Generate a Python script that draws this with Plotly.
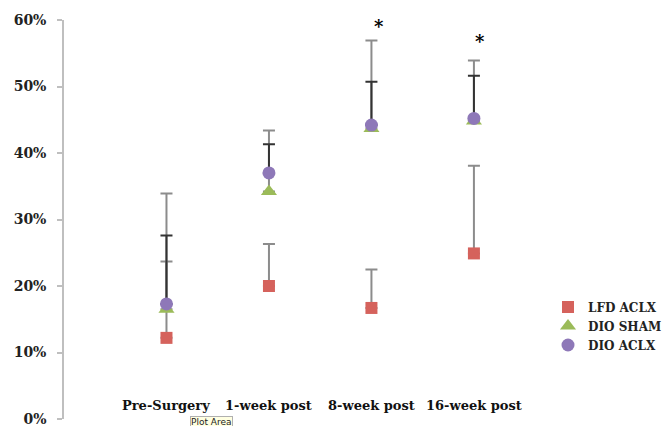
import plotly.graph_objects as go

categories = ["Pre-Surgery", "1-week post", "8-week post", "16-week post"]
lfd_aclx = [0.122, 0.200, 0.167, 0.249]
lfd_aclx_err = [0.115, 0.063, 0.058, 0.132]
dio_sham = [0.165, 0.342, 0.437, 0.448]
dio_sham_err = [0.174, 0.092, 0.132, 0.091]
dio_aclx = [0.173, 0.370, 0.442, 0.452]
dio_aclx_err = [0.103, 0.043, 0.065, 0.064]
star_categories = ["8-week post", "16-week post"]
star_values = [0.59, 0.567]

FONT = "DejaVu Serif"

# page body has an 8px margin: figure is sized/offset to compensate
W, H = 656, 418
L, R, T, B = 56, 104, 12, 7
PW, PH = W - L - R, H - T - B

fig = go.Figure()

def add(name, y, err, color, symbol, size, barcolor):
    fig.add_trace(go.Scatter(
        x=categories, y=y, name=name, mode="markers",
        marker=dict(color=color, symbol=symbol, size=size, line=dict(width=0)),
        error_y=dict(type="data", array=err, arrayminus=[0] * len(err), symmetric=False,
                     color=barcolor, thickness=2, width=6),
    ))

add("LFD ACLX", lfd_aclx, lfd_aclx_err, "#D5625C", "square", 12, "#8C8C8C")
add("DIO SHAM", dio_sham, dio_sham_err, "#9BBB59", "triangle-up", 14, "#8C8C8C")
add("DIO ACLX", dio_aclx, dio_aclx_err, "#8E78B8", "circle", 13, "#333333")

# category labels sitting just above the 0% line
for c in categories:
    fig.add_annotation(x=c, y=0, yanchor="bottom", yshift=4, text="<b>%s</b>" % c,
                       showarrow=False, font=dict(family=FONT, size=13, color="#111"))

for c, v, dx in zip(star_categories, star_values, [8, 6]):
    fig.add_annotation(x=c, y=v, text="<b>*</b>", showarrow=False, xshift=dx,
                       font=dict(family=FONT, size=18, color="#000"))

fig.add_annotation(xref="paper", yref="paper", x=(182 - L) / PW, y=0, yanchor="top",
                   yshift=3, text="Plot Area", showarrow=False, bgcolor="#FFFFE1",
                   bordercolor="#B0B0B0", borderwidth=1, borderpad=0,
                   font=dict(family="DejaVu Sans", size=9, color="#222"))

fig.update_layout(
    width=W, height=H,
    margin=dict(l=L, r=R, t=T, b=B, autoexpand=False),
    paper_bgcolor="white", plot_bgcolor="white",
    showlegend=True,
    legend=dict(x=(540 - L) / PW, xanchor="left", y=(H - B - 318) / PH, yanchor="middle",
                font=dict(family=FONT, size=12, color="#222", weight="bold"),
                itemwidth=30, tracegroupgap=0, bgcolor="rgba(0,0,0,0)"),
    xaxis=dict(type="category", range=[-1.0, 3.84], showgrid=False, zeroline=False,
               showline=False, ticks="", showticklabels=False,
               categoryorder="array", categoryarray=categories),
    yaxis=dict(range=[0, 0.6], tickformat=".0%", dtick=0.1, showgrid=False,
               zeroline=False, showline=True, linecolor="#BFBFBF", linewidth=1.5,
               ticks="outside", ticklen=5, tickcolor="#BFBFBF", tickwidth=1.5,
               ticklabelstandoff=8, ticklabeloverflow="allow",
               tickfont=dict(family=FONT, size=14, color="#222", weight="bold")),
)

fig.write_html("out.html")
